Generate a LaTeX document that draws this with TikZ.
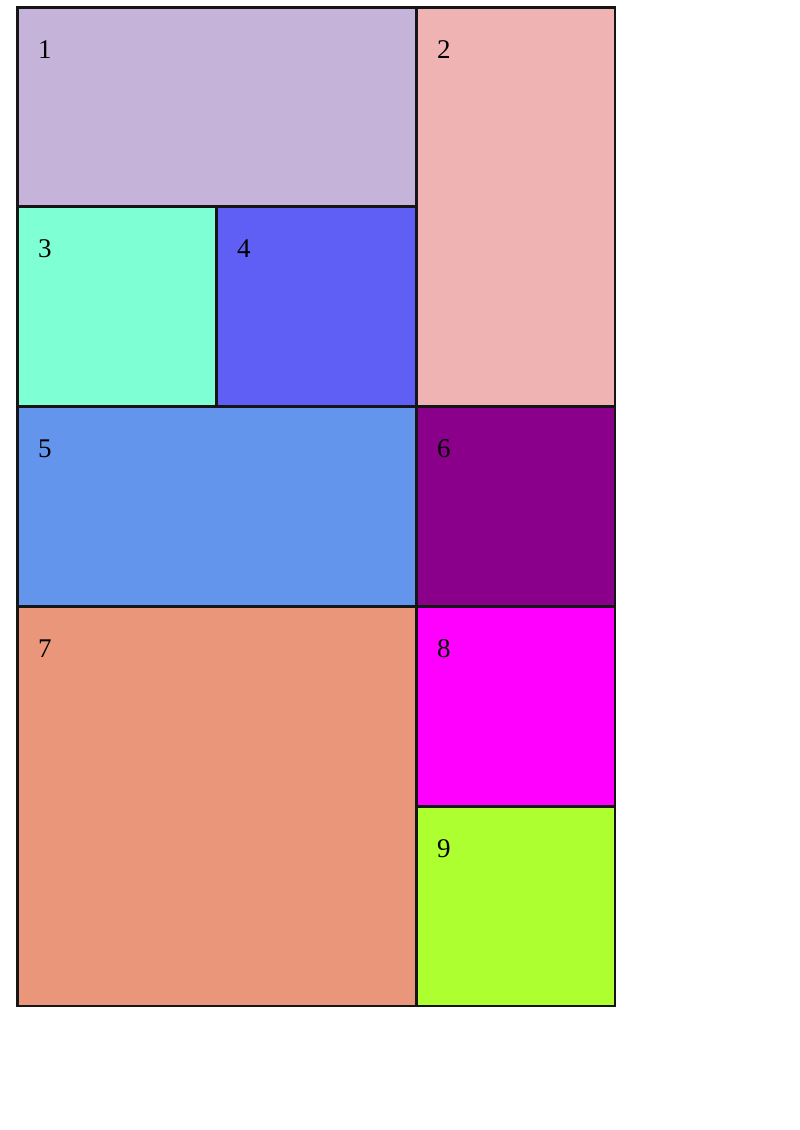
\documentclass[tikz,border=0pt]{standalone}
\usepackage{fontspec}
\setmainfont{Liberation Serif}
\definecolor{c1}{HTML}{C6B3DA}
\definecolor{c2}{HTML}{F0B3B3}
\definecolor{c3}{HTML}{7FFFD4}
\definecolor{c4}{HTML}{5F5FF5}
\definecolor{c5}{HTML}{6495ED}
\definecolor{c6}{HTML}{8B008B}
\definecolor{c7}{HTML}{E9967A}
\definecolor{c8}{HTML}{FF00FF}
\definecolor{c9}{HTML}{ADFF2F}
\definecolor{edge}{HTML}{151515}
\tikzset{
  cell/.style={draw=edge, line width=3pt},
  frame/.style={draw=edge, line width=1.6pt},
  lbl/.style={anchor=base west, inner sep=0pt, font=\fontsize{27}{30}\selectfont}
}
\begin{document}
\begin{tikzpicture}[x=1pt,y=-1pt]
\useasboundingbox (0,0) rectangle (800,1130);
\foreach \n/\xa/\ya/\xb/\yb in {1/17/7/416/206, 2/416/7/615/406, 3/17/206/216/406, 4/216/206/416/406, 5/17/406/416/606, 6/416/406/615/606, 7/17/606/416/1006, 8/416/606/615/806, 9/416/806/615/1006}{
  \fill[c\n] (\xa,\ya) rectangle (\xb,\yb);
}
\begin{scope}
\clip (17,7) rectangle (615,1006);
\foreach \n/\xa/\ya/\xb/\yb in {1/17/7/416/206, 2/416/7/615/406, 3/17/206/216/406, 4/216/206/416/406, 5/17/406/416/606, 6/416/406/615/606, 7/17/606/416/1006, 8/416/606/615/806, 9/416/806/615/1006}{
  \draw[cell] (\xa,\ya) rectangle (\xb,\yb);
}
\end{scope}
\draw[frame] (17,7) rectangle (615,1006);
\foreach \n/\xa/\ya in {1/17/7, 2/416/7, 3/17/206, 4/216/206, 5/17/406, 6/416/406, 7/17/606, 8/416/606, 9/416/806}{
  \node[lbl] (t\n) at (\xa+21,\ya+51) {\n};
}
\end{tikzpicture}
\end{document}
